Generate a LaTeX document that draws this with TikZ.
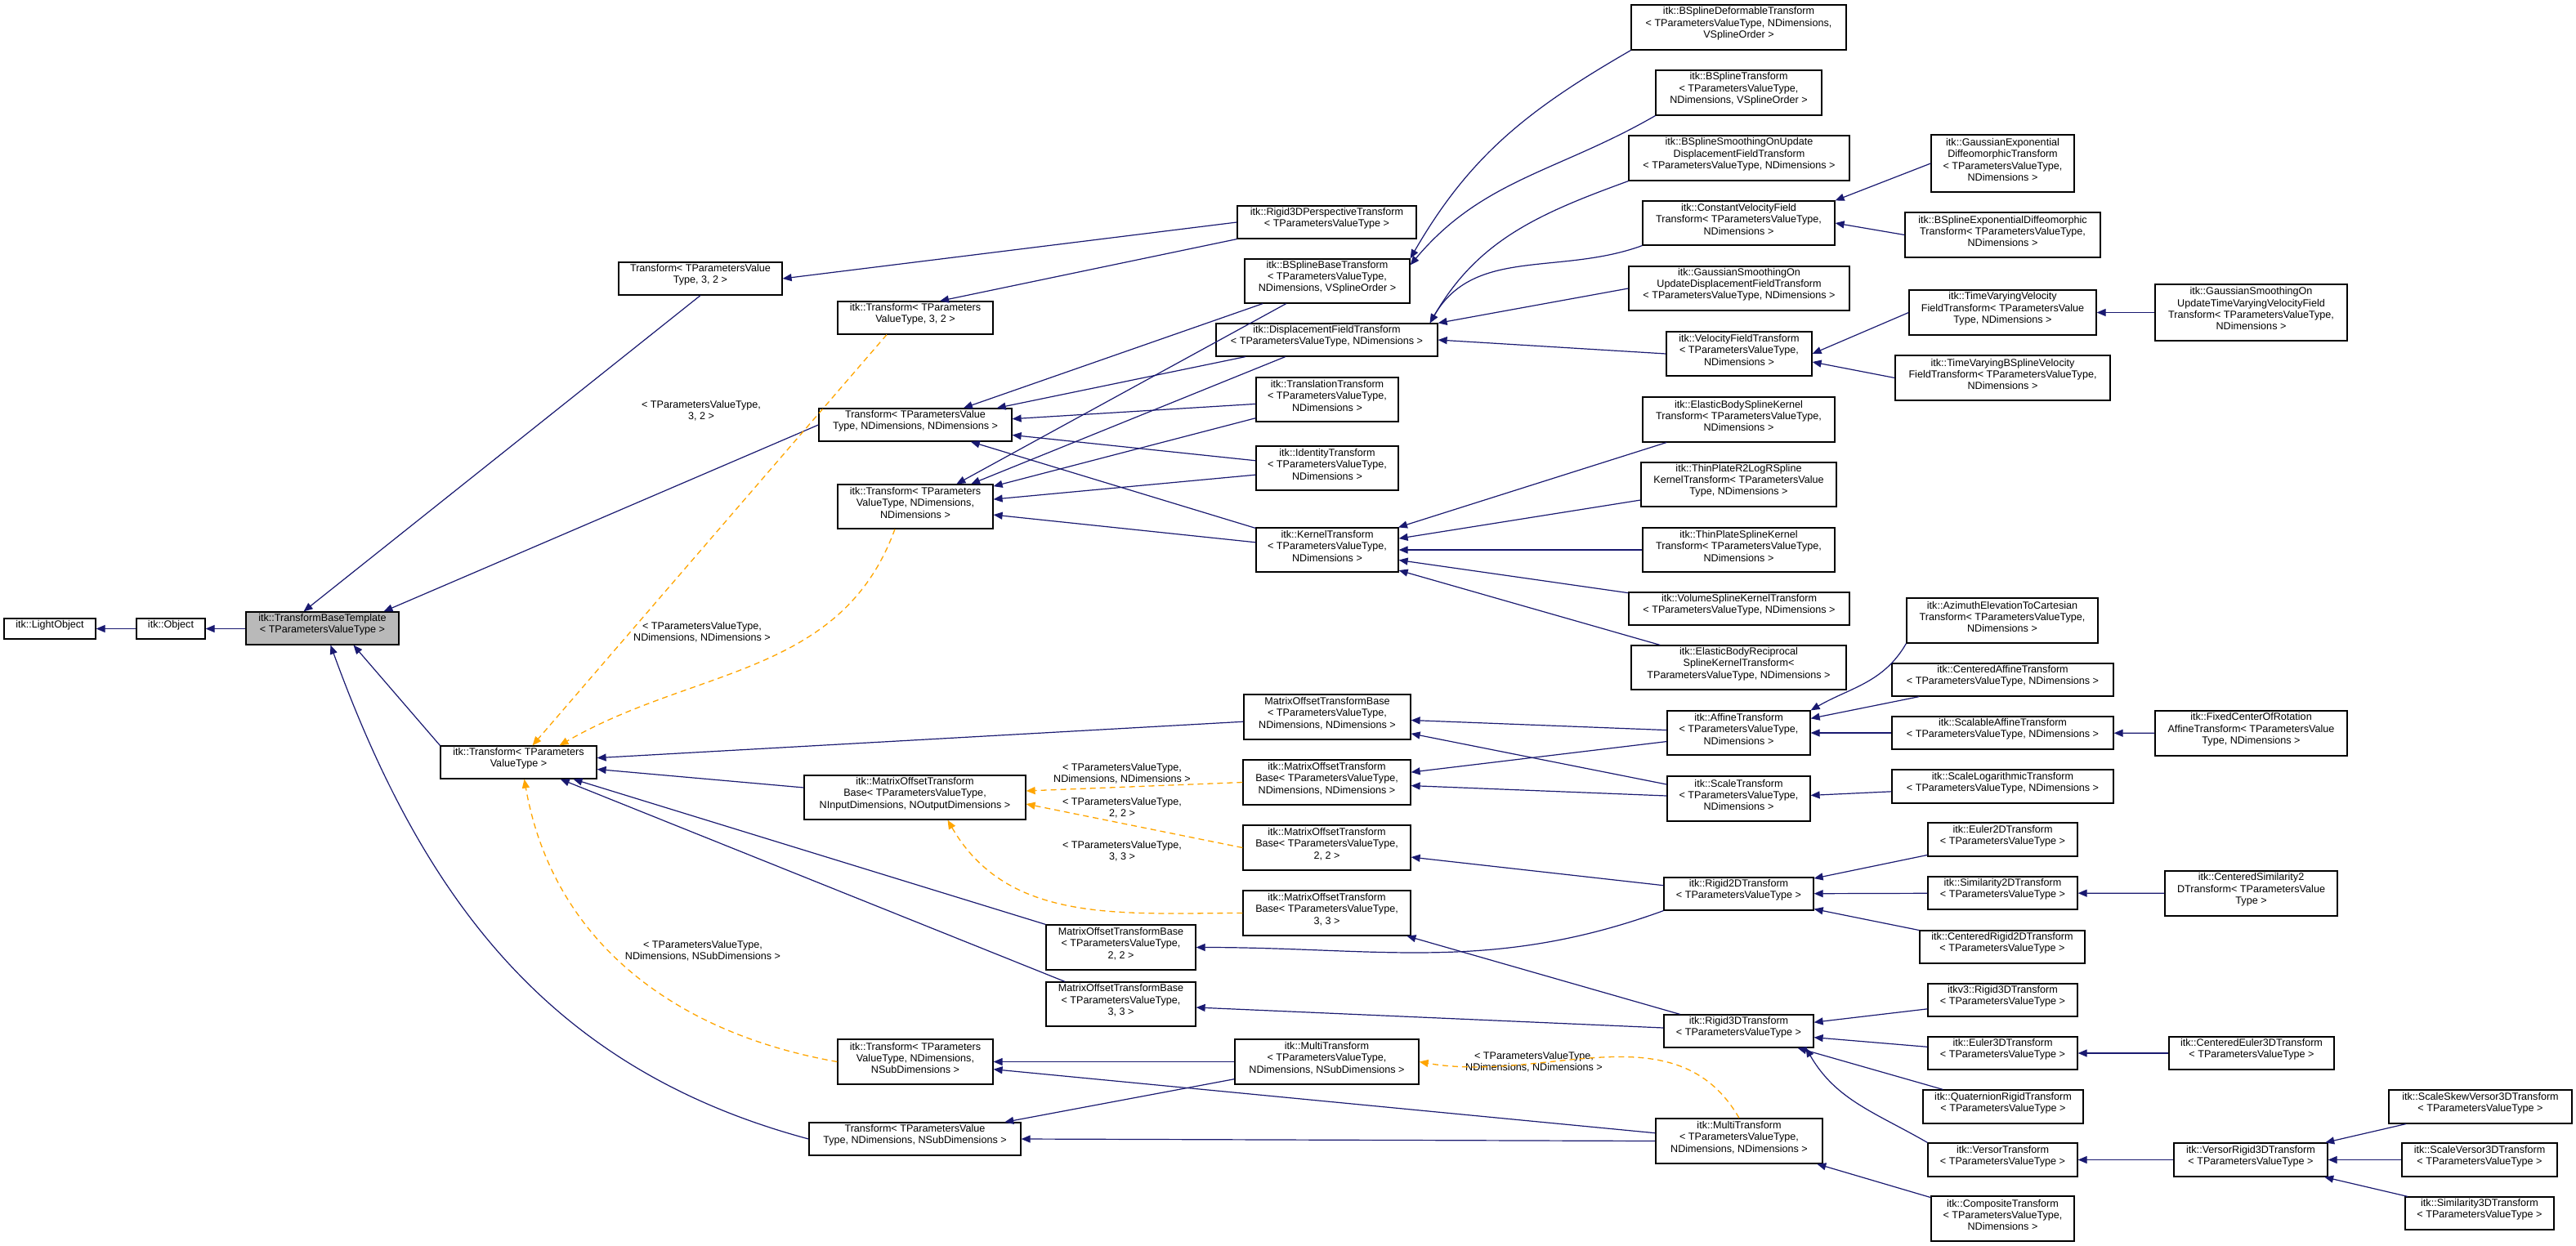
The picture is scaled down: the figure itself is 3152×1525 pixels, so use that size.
\documentclass[tikz,border=0pt]{standalone}
\usepackage{fontspec}
\setmainfont{Liberation Sans}
\usetikzlibrary{fit,arrows.meta}
\definecolor{nv}{HTML}{191970}
\definecolor{og}{HTML}{FFA500}
\begin{document}
\begin{tikzpicture}[x=1pt,y=1pt,
  box/.style={draw=black,line width=1.2pt,fill=white,inner sep=0pt,align=center,font=\fontsize{12.6}{14.3}\selectfont},
  lab/.style={align=center,font=\fontsize{12.6}{14.3}\selectfont},
  inh/.style={draw=nv,line width=1.2pt,-{Triangle[length=11pt,width=9pt]}},
  tpl/.style={draw=og,line width=1.3pt,dash pattern=on 7pt off 5pt,-{Triangle[length=11pt,width=9pt]}}]
\newcommand\bx[6]{\node[box,fit={(#2,-#3)(#4,-#5)}] (#1) {#6};}
\useasboundingbox (0,0) rectangle (3152,-1525);
% nodes
\bx{LO}{5}{757}{117}{782}{itk::LightObject}
\bx{OB}{167}{757}{251}{782}{itk::Object}
\node[box,fill=gray!55,fit={(301,-749)(488,-789)}] (TBT) {itk::TransformBaseTemplate\\< TParametersValueType >};
\bx{T32}{757}{321}{957}{361}{Transform< TParametersValue\\Type, 3, 2 >}
\bx{iT32}{1025}{369}{1215}{409}{itk::Transform< TParameters\\ValueType, 3, 2 >}
\bx{TND}{1002}{500}{1238}{540}{Transform< TParametersValue\\Type, NDimensions, NDimensions >}
\bx{iTND}{1025}{593}{1215}{647}{itk::Transform< TParameters\\ValueType, NDimensions,\\NDimensions >}
\bx{iTT}{539}{913}{730}{953}{itk::Transform< TParameters\\ValueType >}
\bx{iMIO}{984}{949}{1255}{1003}{itk::MatrixOffsetTransform\\Base< TParametersValueType,\\NInputDimensions, NOutputDimensions >}
\bx{M22}{1280}{1132}{1463}{1187}{MatrixOffsetTransformBase\\< TParametersValueType,\\2, 2 >}
\bx{M33}{1280}{1202}{1463}{1256}{MatrixOffsetTransformBase\\< TParametersValueType,\\3, 3 >}
\bx{iTNS}{1025}{1272}{1215}{1327}{itk::Transform< TParameters\\ValueType, NDimensions,\\NSubDimensions >}
\bx{TNS}{990}{1374}{1249}{1414}{Transform< TParametersValue\\Type, NDimensions, NSubDimensions >}
\bx{R3P}{1514}{252}{1733}{292}{itk::Rigid3DPerspectiveTransform\\< TParametersValueType >}
\bx{BSB}{1523}{317}{1725}{371}{itk::BSplineBaseTransform\\< TParametersValueType,\\NDimensions, VSplineOrder >}
\bx{DF}{1488}{396}{1759}{436}{itk::DisplacementFieldTransform\\< TParametersValueType, NDimensions >}
\bx{TR}{1537}{462}{1711}{516}{itk::TranslationTransform\\< TParametersValueType,\\NDimensions >}
\bx{ID}{1537}{546}{1711}{600}{itk::IdentityTransform\\< TParametersValueType,\\NDimensions >}
\bx{KT}{1537}{646}{1711}{700}{itk::KernelTransform\\< TParametersValueType,\\NDimensions >}
\bx{MND}{1522}{850}{1726}{905}{MatrixOffsetTransformBase\\< TParametersValueType,\\NDimensions, NDimensions >}
\bx{iMND}{1521}{930}{1726}{985}{itk::MatrixOffsetTransform\\Base< TParametersValueType,\\NDimensions, NDimensions >}
\bx{iM22}{1521}{1010}{1726}{1065}{itk::MatrixOffsetTransform\\Base< TParametersValueType,\\2, 2 >}
\bx{iM33}{1521}{1090}{1726}{1145}{itk::MatrixOffsetTransform\\Base< TParametersValueType,\\3, 3 >}
\bx{MTS}{1511}{1272}{1736}{1327}{itk::MultiTransform\\< TParametersValueType,\\NDimensions, NSubDimensions >}
\bx{BSD}{1996}{6}{2259}{61}{itk::BSplineDeformableTransform\\< TParametersValueType, NDimensions,\\VSplineOrder >}
\bx{BST}{2026}{86}{2229}{141}{itk::BSplineTransform\\< TParametersValueType,\\NDimensions, VSplineOrder >}
\bx{BSS}{1993}{166}{2263}{221}{itk::BSplineSmoothingOnUpdate\\DisplacementFieldTransform\\< TParametersValueType, NDimensions >}
\bx{CVF}{2010}{246}{2245}{300}{itk::ConstantVelocityField\\Transform< TParametersValueType,\\NDimensions >}
\bx{GSD}{1993}{326}{2263}{380}{itk::GaussianSmoothingOn\\UpdateDisplacementFieldTransform\\< TParametersValueType, NDimensions >}
\bx{VF}{2039}{406}{2217}{460}{itk::VelocityFieldTransform\\< TParametersValueType,\\NDimensions >}
\bx{EBS}{2010}{486}{2245}{541}{itk::ElasticBodySplineKernel\\Transform< TParametersValueType,\\NDimensions >}
\bx{TPR}{2008}{566}{2247}{620}{itk::ThinPlateR2LogRSpline\\KernelTransform< TParametersValue\\Type, NDimensions >}
\bx{TPS}{2010}{646}{2245}{700}{itk::ThinPlateSplineKernel\\Transform< TParametersValueType,\\NDimensions >}
\bx{VS}{1993}{725}{2263}{765}{itk::VolumeSplineKernelTransform\\< TParametersValueType, NDimensions >}
\bx{EBR}{1996}{790}{2259}{844}{itk::ElasticBodyReciprocal\\SplineKernelTransform<\\ TParametersValueType, NDimensions >}
\bx{AF}{2040}{870}{2215}{924}{itk::AffineTransform\\< TParametersValueType,\\NDimensions >}
\bx{SC}{2040}{950}{2215}{1005}{itk::ScaleTransform\\< TParametersValueType,\\NDimensions >}
\bx{R2}{2036}{1074}{2219}{1114}{itk::Rigid2DTransform\\< TParametersValueType >}
\bx{R3}{2036}{1242}{2219}{1282}{itk::Rigid3DTransform\\< TParametersValueType >}
\bx{MTN}{2026}{1369}{2230}{1424}{itk::MultiTransform\\< TParametersValueType,\\NDimensions, NDimensions >}
\bx{GED}{2363}{165}{2538}{235}{itk::GaussianExponential\\DiffeomorphicTransform\\< TParametersValueType,\\NDimensions >}
\bx{BED}{2331}{260}{2570}{315}{itk::BSplineExponentialDiffeomorphic\\Transform< TParametersValueType,\\NDimensions >}
\bx{TVV}{2336}{355}{2565}{410}{itk::TimeVaryingVelocity\\FieldTransform< TParametersValue\\Type, NDimensions >}
\bx{TVB}{2319}{435}{2582}{490}{itk::TimeVaryingBSplineVelocity\\FieldTransform< TParametersValueType,\\NDimensions >}
\bx{GTV}{2637}{348}{2872}{417}{itk::GaussianSmoothingOn\\UpdateTimeVaryingVelocityField\\Transform< TParametersValueType,\\NDimensions >}
\bx{AZ}{2333}{732}{2567}{787}{itk::AzimuthElevationToCartesian\\Transform< TParametersValueType,\\NDimensions >}
\bx{CA}{2315}{812}{2586}{852}{itk::CenteredAffineTransform\\< TParametersValueType, NDimensions >}
\bx{SA}{2315}{877}{2586}{917}{itk::ScalableAffineTransform\\< TParametersValueType, NDimensions >}
\bx{FC}{2637}{870}{2872}{925}{itk::FixedCenterOfRotation\\AffineTransform< TParametersValue\\Type, NDimensions >}
\bx{SL}{2315}{942}{2586}{983}{itk::ScaleLogarithmicTransform\\< TParametersValueType, NDimensions >}
\bx{E2}{2359}{1007}{2542}{1048}{itk::Euler2DTransform\\< TParametersValueType >}
\bx{S2}{2359}{1073}{2542}{1113}{itk::Similarity2DTransform\\< TParametersValueType >}
\bx{CS2}{2649}{1066}{2860}{1121}{itk::CenteredSimilarity2\\DTransform< TParametersValue\\Type >}
\bx{CR2}{2349}{1139}{2551}{1179}{itk::CenteredRigid2DTransform\\< TParametersValueType >}
\bx{V3R}{2359}{1204}{2542}{1244}{itkv3::Rigid3DTransform\\< TParametersValueType >}
\bx{E3}{2359}{1269}{2542}{1309}{itk::Euler3DTransform\\< TParametersValueType >}
\bx{CE3}{2654}{1269}{2856}{1309}{itk::CenteredEuler3DTransform\\< TParametersValueType >}
\bx{QR}{2353}{1334}{2549}{1375}{itk::QuaternionRigidTransform\\< TParametersValueType >}
\bx{VT}{2359}{1399}{2542}{1440}{itk::VersorTransform\\< TParametersValueType >}
\bx{VR3}{2660}{1399}{2848}{1440}{itk::VersorRigid3DTransform\\< TParametersValueType >}
\bx{SSV}{2923}{1334}{3147}{1375}{itk::ScaleSkewVersor3DTransform\\< TParametersValueType >}
\bx{SV3}{2939}{1399}{3129}{1440}{itk::ScaleVersor3DTransform\\< TParametersValueType >}
\bx{SI3}{2943}{1465}{3125}{1505}{itk::Similarity3DTransform\\< TParametersValueType >}
\bx{CT}{2363}{1464}{2538}{1519}{itk::CompositeTransform\\< TParametersValueType,\\NDimensions >}
% labels
\node[lab] (l1) at (858,-503) {< TParametersValueType,\\3, 2 >};
\node[lab] (l2) at (859,-774) {< TParametersValueType,\\NDimensions, NDimensions >};
\node[lab] (l3) at (860,-1164) {< TParametersValueType,\\NDimensions, NSubDimensions >};
\node[lab] (l4) at (1373,-947) {< TParametersValueType,\\NDimensions, NDimensions >};
\node[lab] (l5) at (1373,-989) {< TParametersValueType,\\2, 2 >};
\node[lab] (l6) at (1373,-1042) {< TParametersValueType,\\3, 3 >};
\node[lab] (l7) at (1877,-1300) {< TParametersValueType,\\NDimensions, NDimensions >};
% edges
\draw[inh] (OB) -- (LO);
\draw[inh] (TBT.west |- OB) -- (OB);
\draw[inh] (T32.south) -- ([xshift=-23pt]TBT.north);
\draw[inh] (TND.west) -- ([xshift=75pt]TBT.north);
\draw[inh] (iTT.north west) -- ([xshift=38pt]TBT.south);
\draw[inh] (TNS.west) to[out=165,in=-70] ([xshift=10pt]TBT.south);
\draw[inh] (R3P.west) -- (T32.east);
\draw[inh] (R3P.south west) -- ([xshift=30pt]iT32.north);
\draw[tpl] ([xshift=-35pt]iT32.south) -- ([xshift=17pt]iTT.north);
\draw[tpl] ([xshift=-25pt]iTND.south) to[out=-110,in=30] ([xshift=50pt]iTT.north);
\draw[tpl] (iTNS.west) to[out=170,in=-80] ([xshift=7pt]iTT.south);
\foreach \c in {BSB,DF,TR,ID,KT}{\draw[inh] (\c) -- (TND);\draw[inh] (\c) -- (iTND);}
\draw[inh] (BSD.south west) to[out=-150,in=60] (BSB.north east);
\draw[inh] (BST.south west) to[out=-150,in=50] ([yshift=-8pt]BSB.north east);
\foreach \c in {BSS,CVF}{\draw[inh] (\c.south west) to[out=-160,in=60] ([xshift=-10pt]DF.north east);}
\draw[inh] (GSD.west) -- (DF.north east);
\draw[inh] (VF.west) -- (DF.east);
\draw[inh] (GED.west) -- (CVF.north east);
\draw[inh] (BED.west) -- (CVF.east);
\draw[inh] (TVV.west) -- (VF.east);
\draw[inh] (TVB.west) -- ([yshift=-10pt]VF.east);
\draw[inh] (GTV.west) -- (TVV.east);
\foreach \c in {EBS,TPR,TPS,VS,EBR}{\draw[inh] (\c) -- (KT);}
\foreach \c in {MND,iMIO,M22,M33}{\draw[inh] (\c) -- (iTT);}
\draw[tpl] (iMND.west) -- ([yshift=8pt]iMIO.east);
\draw[tpl] (iM22.west) -- ([yshift=-8pt]iMIO.east);
\draw[tpl] (iM33.west) to[out=180,in=-60] ([xshift=40pt]iMIO.south);
\draw[inh] (AF) -- (MND);\draw[inh] (AF) -- (iMND);
\draw[inh] (SC) -- (MND);\draw[inh] (SC) -- (iMND);
\draw[inh] (AZ.south west) to[out=-120,in=30] (AF.north east);
\draw[inh] (CA) -- (AF);\draw[inh] (SA) -- (AF);\draw[inh] (FC) -- (SA);
\draw[inh] (SL) -- (SC);
\draw[inh] (R2) -- (iM22);
\draw[inh] (R2.south west) to[out=-160,in=0] (M22.east);
\draw[inh] (R3) -- (iM33);\draw[inh] (R3) -- (M33);
\foreach \c in {E2,S2,CR2}{\draw[inh] (\c) -- (R2);}
\draw[inh] (CS2) -- (S2);
\foreach \c in {V3R,E3,QR}{\draw[inh] (\c) -- (R3);}
\draw[inh] (VT.north west) to[out=150,in=-60] ([xshift=-10pt]R3.south east);
\draw[inh] (CE3) -- (E3);
\draw[inh] (VR3) -- (VT);
\foreach \c in {SSV,SV3,SI3}{\draw[inh] (\c) -- (VR3);}
\draw[inh] (MTS.west) -- (iTNS.east);
\draw[inh] (MTS) -- (TNS);
\draw[inh] (MTN) -- (iTNS);
\draw[inh] (MTN.west) -- (TNS.east);
\draw[tpl] (MTN.north) to[out=120,in=-10] (MTS.east);
\draw[inh] (CT) -- (MTN);
\end{tikzpicture}
\end{document}
